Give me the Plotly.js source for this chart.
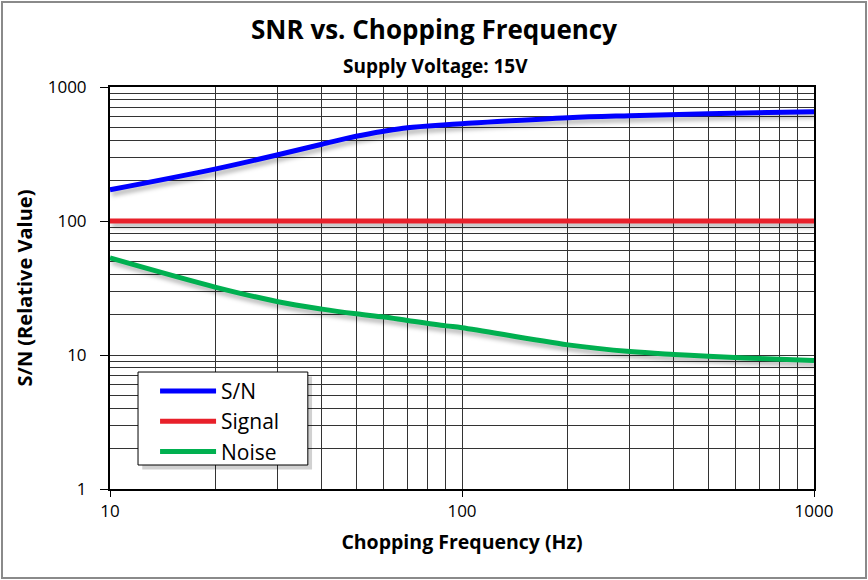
<!DOCTYPE html>
<html>
<head>
<meta charset="utf-8">
<script src="https://cdn.plot.ly/plotly-3.0.1.min.js"></script>
<style>
  html, body { margin: 0; padding: 0; background: #fff; }
  #chart { position: absolute; left: 1px; top: 1px; width: 862px; height: 574px; border: 2px solid #8a8a8a; }
  #chart .scatterlayer .js-line { filter: drop-shadow(2px 4px 2px rgba(0,0,0,0.28)); }
</style>
</head>
<body>
<div id="chart"></div>
<script>
// Data
const freqHz   = [10, 20, 30, 40, 50, 60, 70, 90, 100, 200, 300, 500, 1000];
const snValues = [171, 245, 312, 374, 429, 468, 497, 523, 532, 590, 611, 632, 654];
const signalFreq = [10, 1000];
const signalValues = [100, 100];
const noiseFreq   = [10, 20, 30, 40, 50, 60, 70, 90, 100, 200, 300, 400, 500, 700, 1000];
const noiseValues = [53, 32, 25, 22, 20.3, 19.2, 18.1, 16.5, 16.0, 11.9, 10.6, 10.1, 9.8, 9.4, 9.1];
const seriesNames = ["S/N", "Signal", "Noise"];
const xTickVals = [10, 100, 1000];
const yTickVals = [1, 10, 100, 1000];
const chartTitle = "SNR vs. Chopping Frequency";
const chartSubtitle = "Supply Voltage: 15V";
const xTitle = "Chopping Frequency (Hz)";
const yTitle = "S/N (Relative Value)";

const FONT = "'Open Sans', sans-serif";

const traces = [
  {x: freqHz, y: snValues, name: seriesNames[0], mode: "lines",
   line: {color: "#0000FF", width: 5, shape: "spline", smoothing: 1}},
  {x: signalFreq, y: signalValues, name: seriesNames[1], mode: "lines",
   line: {color: "#E8202A", width: 5}},
  {x: noiseFreq, y: noiseValues, name: seriesNames[2], mode: "lines",
   line: {color: "#00B050", width: 5, shape: "spline", smoothing: 1}}
];

const gridCol = "#333333";
// legend frame (paper coordinates of the plot area)
const lgX0 = 0.0398, lgX1 = 0.281, lgY0 = 0.0597, lgY1 = 0.291;
const layout = {
  width: 862, height: 574,
  margin: {l: 107, r: 51, t: 84, b: 88},
  paper_bgcolor: "#ffffff", plot_bgcolor: "#ffffff",
  font: {family: FONT, color: "#000", size: 17},
  title: {
    text: "<b>" + chartTitle + "</b>",
    font: {family: FONT, size: 26, color: "#000"},
    x: 0.5, xref: "container", xanchor: "center",
    y: 0.953, yref: "container", yanchor: "middle"
  },
  annotations: [{
    text: "<b>" + chartSubtitle + "</b>", showarrow: false,
    xref: "paper", yref: "paper", x: 0.463, y: 1.0522,
    xanchor: "center", yanchor: "middle",
    font: {family: FONT, size: 19, color: "#000"}
  }],
  shapes: [
    {type: "rect", xref: "paper", yref: "paper", layer: "above",
     x0: lgX0 + 0.006, x1: lgX1 + 0.006, y0: lgY0 - 0.011, y1: lgY1 - 0.011,
     fillcolor: "rgba(0,0,0,0.18)", line: {width: 0}},
    {type: "rect", xref: "paper", yref: "paper", layer: "above",
     x0: lgX0, x1: lgX1, y0: lgY0, y1: lgY1,
     fillcolor: "#ffffff", line: {color: "#000", width: 1}}
  ],
  xaxis: {
    type: "log", range: [1, 3],
    tickmode: "array", tickvals: xTickVals, ticktext: xTickVals.map(String),
    ticks: "outside", ticklen: 6, tickcolor: "#000", tickwidth: 1,
    showline: true, linecolor: "#000", linewidth: 2, mirror: true,
    showgrid: true, gridcolor: gridCol, gridwidth: 1,
    minor: {dtick: "D1", showgrid: true, gridcolor: gridCol, gridwidth: 1, ticks: ""},
    tickfont: {family: FONT, size: 17},
    title: {text: "<b>" + xTitle + "</b>", font: {family: FONT, size: 19.5}, standoff: 14},
    zeroline: false
  },
  yaxis: {
    type: "log", range: [0, 3],
    tickmode: "array", tickvals: yTickVals, ticktext: yTickVals.map(String),
    ticks: "outside", ticklen: 8, tickcolor: "#000", tickwidth: 1,
    ticklabelstandoff: 10,
    showline: true, linecolor: "#000", linewidth: 2, mirror: true,
    showgrid: true, gridcolor: gridCol, gridwidth: 1,
    minor: {dtick: "D1", showgrid: true, gridcolor: gridCol, gridwidth: 1, ticks: ""},
    tickfont: {family: FONT, size: 17},
    title: {text: "<b>" + yTitle + "</b>", font: {family: FONT, size: 20}, standoff: 10},
    zeroline: false
  },
  legend: {
    x: 0.064, y: 0.294, xanchor: "left", yanchor: "top",
    bgcolor: "rgba(0,0,0,0)", borderwidth: 0,
    font: {family: FONT, size: 21, color: "#000"},
    tracegroupgap: 0, itemwidth: 56
  },
  showlegend: true
};

Plotly.newPlot("chart", traces, layout, {displayModeBar: false, staticPlot: true});
</script>
</body>
</html>
